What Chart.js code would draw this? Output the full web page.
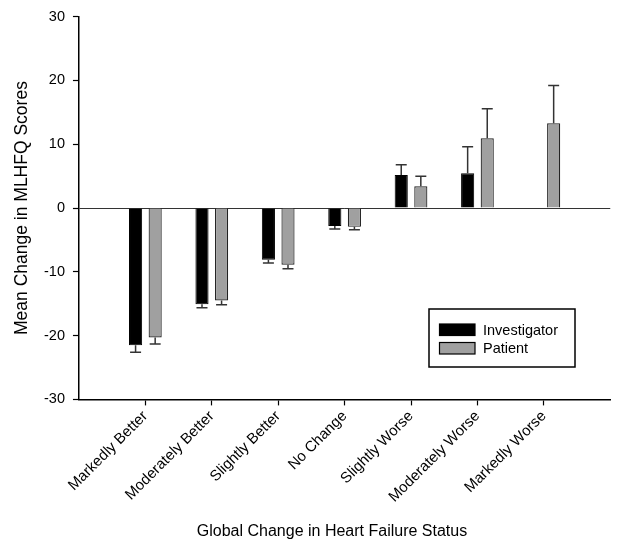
<!DOCTYPE html>
<html>
<head>
<meta charset="utf-8">
<script src="https://cdn.jsdelivr.net/npm/chart.js@4.4.0/dist/chart.umd.min.js"></script>
<style>
  body { margin: 0; background: #fff; }
  #wrap { width: 625px; height: 542px; }
</style>
</head>
<body>
<div id="wrap"><canvas id="chart" width="625" height="542"></canvas></div>
<script>
// data
const categories = ['Markedly Better', 'Moderately Better', 'Slightly Better', 'No Change',
                    'Slightly Worse', 'Moderately Worse', 'Markedly Worse'];
const investigatorMean = [-21.5, -15.1, -8.1, -2.8, 5.2, 5.45, null];
const investigatorErr  = [1.1, 0.55, 0.5, 0.5, 1.6, 4.15, null];
const patientMean      = [-20.3, -14.5, -8.9, -2.95, 3.4, 10.95, 13.3];
const patientErr       = [1.0, 0.65, 0.6, 0.45, 1.6, 4.6, 5.9];
const yMin = -30, yMax = 30, yStep = 10;

const FONT = '"Liberation Sans", Arial, sans-serif';

// axis runs one empty slot beyond each end, categories sit at 1..7
const pad = arr => [null, ...arr, null];
const labels = ['', ...categories, ''];

// one-sided error bars, drawn away from zero
const errorBars = {
    id: 'errorBars',
    afterDatasetsDraw(chart) {
        const ctx = chart.ctx;
        const y = chart.scales.y;
        chart.data.datasets.forEach((ds, i) => {
            const meta = chart.getDatasetMeta(i);
            meta.data.forEach((bar, j) => {
                const v = ds.data[j];
                const e = ds.errors[j];
                if (v == null || e == null) return;
                const yEnd = y.getPixelForValue(v + Math.sign(v) * e);
                ctx.save();
                ctx.strokeStyle = '#333';
                ctx.lineWidth = 1.5;
                ctx.beginPath();
                ctx.moveTo(bar.x, y.getPixelForValue(v));
                ctx.lineTo(bar.x, yEnd);
                ctx.moveTo(bar.x - 5.5, yEnd);
                ctx.lineTo(bar.x + 5.5, yEnd);
                ctx.stroke();
                ctx.restore();
            });
        });
    }
};

// boxed legend inside the plot, lower right
const boxLegend = {
    id: 'boxLegend',
    afterDraw(chart) {
        const ctx = chart.ctx;
        ctx.save();
        ctx.strokeStyle = '#000';
        ctx.lineWidth = 1.5;
        ctx.strokeRect(429, 309, 146, 58);
        ctx.font = '14.5px ' + FONT;
        ctx.textBaseline = 'middle';
        chart.data.datasets.forEach((ds, i) => {
            const top = 324 + i * 18.5;
            ctx.fillStyle = ds.backgroundColor;
            ctx.fillRect(439.5, top, 35.5, 11.5);
            ctx.lineWidth = 1.2;
            ctx.strokeStyle = '#000';
            ctx.strokeRect(439.5, top, 35.5, 11.5);
            ctx.fillStyle = '#000';
            ctx.fillText(ds.label, 483, top + 6.5);
        });
        ctx.restore();
    }
};

// x title sits a little left of the plot centre in the original
const xTitle = {
    id: 'xTitle',
    afterDraw(chart) {
        const ctx = chart.ctx;
        ctx.save();
        ctx.font = '16px ' + FONT;
        ctx.fillStyle = '#000';
        ctx.textAlign = 'center';
        ctx.textBaseline = 'middle';
        ctx.fillText('Global Change in Heart Failure Status', 332, 532);
        ctx.restore();
    }
};

new Chart(document.getElementById('chart'), {
    type: 'bar',
    data: {
        labels: labels,
        datasets: [
            {
                label: 'Investigator',
                data: pad(investigatorMean),
                errors: pad(investigatorErr),
                backgroundColor: '#000000',
                borderColor: '#000000',
                borderWidth: 1
            },
            {
                label: 'Patient',
                data: pad(patientMean),
                errors: pad(patientErr),
                backgroundColor: '#a0a0a0',
                borderColor: '#222222',
                borderWidth: 1.2
            }
        ]
    },
    options: {
        responsive: false,
        animation: false,
        categoryPercentage: 0.59,
        barPercentage: 0.67,
        layout: { padding: { top: 13, right: 2, left: 12, bottom: 34 } },
        plugins: {
            legend: { display: false },
            tooltip: { enabled: false }
        },
        scales: {
            x: {
                offset: false,
                grid: {
                    offset: false,
                    drawOnChartArea: false,
                    tickLength: 6,
                    tickWidth: 1.2,
                    tickColor: c => (c.index === 0 || c.index === labels.length - 1) ? 'transparent' : '#000'
                },
                border: { color: '#000', width: 1.5 },
                ticks: {
                    autoSkip: false,
                    maxRotation: 45,
                    minRotation: 45,
                    padding: 2,
                    color: '#000',
                    font: { family: FONT, size: 15 }
                }
            },
            y: {
                min: yMin,
                max: yMax,
                grid: {
                    color: c => c.tick && c.tick.value === 0 ? '#333' : 'transparent',
                    lineWidth: 1,
                    tickLength: 6,
                    tickWidth: 1.2,
                    tickColor: '#000'
                },
                border: { color: '#000', width: 1.5 },
                ticks: {
                    stepSize: yStep,
                    padding: 8,
                    color: '#000',
                    font: { family: FONT, size: 14.5 }
                },
                title: {
                    display: true,
                    text: 'Mean Change in MLHFQ Scores',
                    color: '#000',
                    font: { family: FONT, size: 17.5 },
                    padding: { top: 0, bottom: 3 }
                }
            }
        }
    },
    plugins: [errorBars, boxLegend, xTitle]
});
</script>
</body>
</html>
